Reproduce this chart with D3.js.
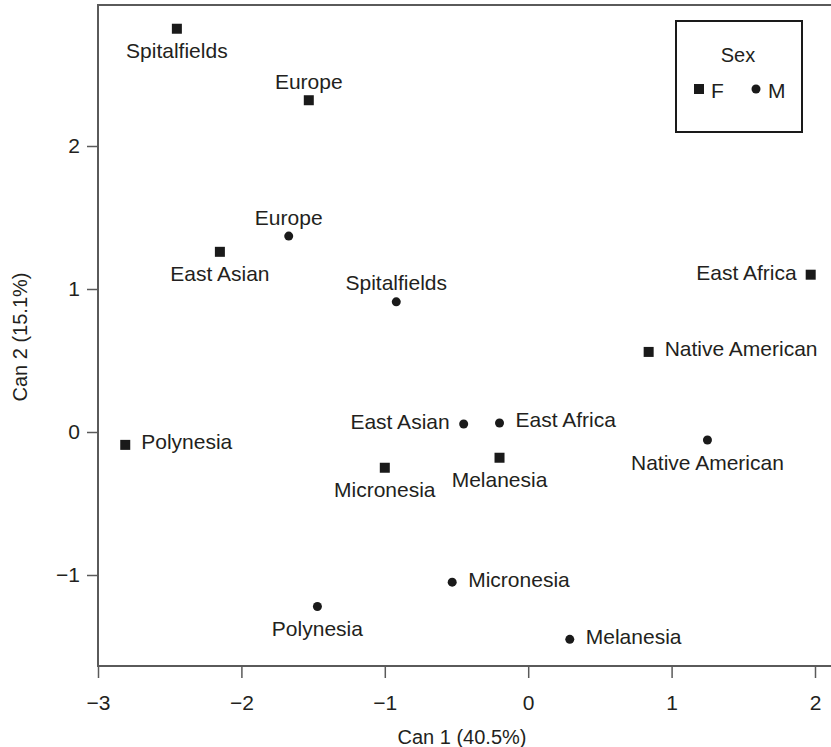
<!DOCTYPE html>
<html>
<head>
<meta charset="utf-8">
<script src="https://cdn.jsdelivr.net/npm/d3@7"></script>
<style>
  body { margin: 0; background: #fff; }
  text { font-family: "Liberation Sans", Arial, sans-serif; fill: #231f20; }
</style>
</head>
<body>
<div id="chart"></div>
<script>
// Canonical scores per group / sex
const groups = ['Spitalfields', 'Europe', 'East Asian', 'Europe', 'Spitalfields', 'East Africa',
    'Native American', 'Polynesia', 'East Asian', 'East Africa', 'Micronesia', 'Melanesia',
    'Native American', 'Micronesia', 'Polynesia', 'Melanesia'];
const sexes = ['F', 'F', 'F', 'M', 'M', 'F', 'F', 'F', 'M', 'M', 'F', 'F', 'M', 'M', 'M', 'M'];
const can1 = [-2.45, -1.53, -2.15, -1.67, -0.92, 1.97, 0.84, -2.81, -0.45, -0.20, -1.00, -0.20, 1.25, -0.53, -1.47, 0.29];
const can2 = [2.82, 2.32, 1.26, 1.37, 0.91, 1.10, 0.56, -0.09, 0.056, 0.063, -0.25, -0.18, -0.056, -1.05, -1.22, -1.45];
// where each label sits relative to its marker
const labelSide = ['below', 'above', 'below', 'above', 'above', 'left', 'right', 'right',
    'left', 'right', 'below', 'below', 'below', 'right', 'below', 'right'];
const xTicks = [-3, -2, -1, 0, 1, 2];
const yTicks = [-1, 0, 1, 2];
const sexKeys = ['F', 'M'];

const svgWidth = 831;
const svgHeight = 747;
const frame = { left: 98, top: 5, right: 840, bottom: 666 };

const svg = d3.select('#chart')
    .append('svg')
    .attr('width', svgWidth)
    .attr('height', svgHeight);

const xScale = d3.scaleLinear().domain([-3, 2]).range([98, 815]);
const yScale = d3.scaleLinear().domain([0, 2]).range([432, 146]);

// Frame (right side runs off the picture)
svg.append('rect')
    .attr('x', frame.left)
    .attr('y', frame.top)
    .attr('width', frame.right - frame.left)
    .attr('height', frame.bottom - frame.top)
    .attr('fill', 'none')
    .attr('stroke', '#5a5a5a')
    .attr('stroke-width', 2);

// Axes
const minus = d => d < 0 ? '\u2212' + Math.abs(d) : d;
const xAxis = svg.append('g')
    .attr('transform', `translate(0, ${frame.bottom})`)
    .call(d3.axisBottom(xScale).tickValues(xTicks).tickSize(12).tickPadding(17).tickFormat(minus));
const yAxis = svg.append('g')
    .attr('transform', `translate(${frame.left}, 0)`)
    .call(d3.axisLeft(yScale).tickValues(yTicks).tickSize(11).tickPadding(7).tickFormat(minus));

[xAxis, yAxis].forEach(ax => {
    ax.select('.domain').remove();
    ax.selectAll('line').attr('stroke', '#5a5a5a').attr('stroke-width', 1.5);
    ax.selectAll('text').style('font-size', '21px').attr('fill', '#231f20');
});

// Axis titles
svg.append('text')
    .attr('x', 462)
    .attr('y', 737)
    .attr('text-anchor', 'middle')
    .attr('dominant-baseline', 'central')
    .style('font-size', '20px')
    .text('Can 1 (40.5%)');

svg.append('text')
    .attr('transform', `translate(20, 337) rotate(-90)`)
    .attr('text-anchor', 'middle')
    .attr('dominant-baseline', 'central')
    .style('font-size', '20px')
    .text('Can 2 (15.1%)');

// Points
const data = groups.map((g, i) => ({
    group: g, sex: sexes[i], x: can1[i], y: can2[i], side: labelSide[i]
}));

const drawMarker = (sel, sex, cx, cy) => {
    if (sex === 'F') {
        sel.append('rect')
            .attr('x', cx - 5).attr('y', cy - 5)
            .attr('width', 10).attr('height', 10)
            .attr('fill', '#1a1a1a');
    } else {
        sel.append('circle')
            .attr('cx', cx).attr('cy', cy).attr('r', 4.5)
            .attr('fill', '#1a1a1a');
    }
};

const pointGroup = svg.append('g');
data.forEach(d => {
    const cx = xScale(d.x);
    const cy = yScale(d.y);
    drawMarker(pointGroup, d.sex, cx, cy);

    const label = pointGroup.append('text')
        .attr('dominant-baseline', 'central')
        .style('font-size', '21px')
        .text(d.group);
    if (d.side === 'below') {
        label.attr('x', cx).attr('y', cy + 22).attr('text-anchor', 'middle');
    } else if (d.side === 'above') {
        label.attr('x', cx).attr('y', cy - 19).attr('text-anchor', 'middle');
    } else if (d.side === 'left') {
        label.attr('x', cx - 14).attr('y', cy - 2).attr('text-anchor', 'end');
    } else {
        label.attr('x', cx + 16).attr('y', cy - 3).attr('text-anchor', 'start');
    }
});

// Legend
const legend = svg.append('g');
legend.append('rect')
    .attr('x', 676).attr('y', 21)
    .attr('width', 126).attr('height', 111)
    .attr('fill', '#fff')
    .attr('stroke', '#1a1a1a')
    .attr('stroke-width', 2);
legend.append('text')
    .attr('x', 738).attr('y', 55)
    .attr('text-anchor', 'middle')
    .attr('dominant-baseline', 'central')
    .style('font-size', '20px')
    .text('Sex');
sexKeys.forEach((s, i) => {
    const mx = 699 + i * 57;
    drawMarker(legend, s, mx, 89);
    legend.append('text')
        .attr('x', mx + 12).attr('y', 90)
        .attr('dominant-baseline', 'central')
        .style('font-size', '21px')
        .text(s);
});
</script>
</body>
</html>
